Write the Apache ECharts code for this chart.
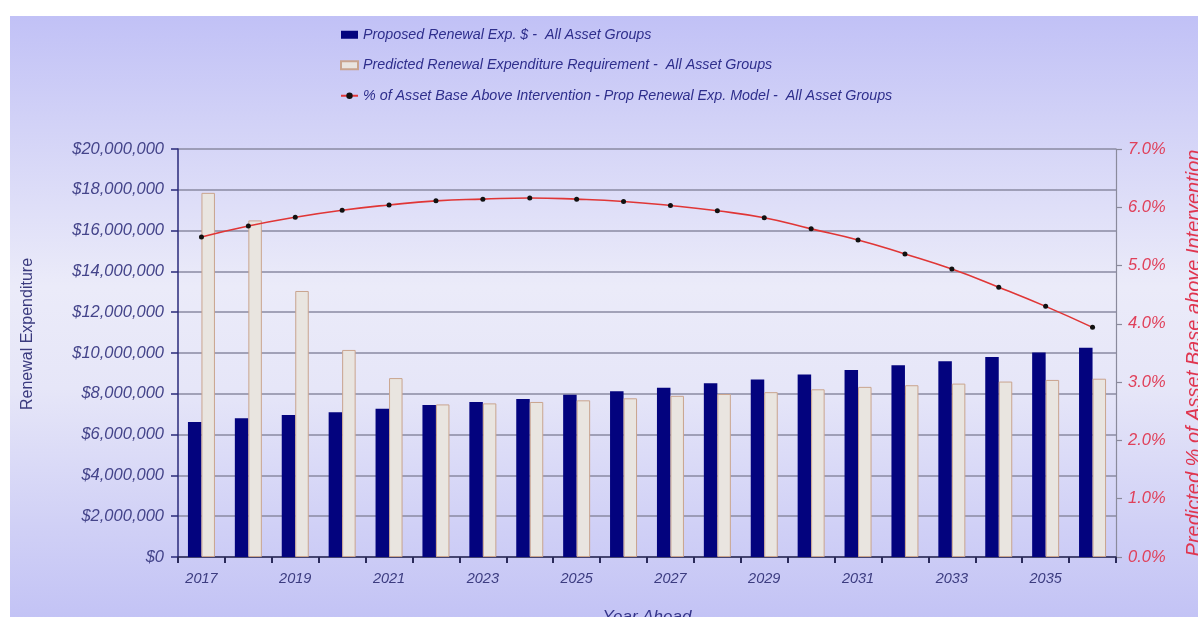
<!DOCTYPE html>
<html>
<head>
<meta charset="utf-8">
<script src="https://cdn.jsdelivr.net/npm/echarts@6/dist/echarts.min.js"></script>
<style>
  html, body { margin: 0; padding: 0; background: #ffffff; }
  #wrap { position: relative; width: 1198px; height: 617px; overflow: hidden; background: #ffffff; }
  #bg { position: absolute; left: 10px; top: 16px; right: 0; bottom: 0;
        background: linear-gradient(to bottom, #c1c1f6 0%, #d2d2f7 18%, #ebebf9 45%, #e6e6f8 62%, #d0d0f6 85%, #c3c3f5 100%); }
  #chart { position: absolute; left: 0; top: 0; width: 1198px; height: 617px; }
</style>
</head>
<body>
<div id="wrap"><div id="bg"></div><div id="chart"></div></div>
<script>
// Years of the renewal plan
const years = ['2017','2018','2019','2020','2021','2022','2023','2024','2025','2026',
               '2027','2028','2029','2030','2031','2032','2033','2034','2035','2036'];

// Proposed renewal expenditure ($)
const proposedRenewal = [6620000, 6800000, 6960000, 7100000, 7270000, 7450000, 7600000, 7750000, 7950000, 8120000,
                         8300000, 8520000, 8700000, 8950000, 9170000, 9400000, 9600000, 9800000, 10030000, 10260000];

// Predicted renewal expenditure requirement ($)
const predictedRequirement = [17850000, 16500000, 13040000, 10150000, 8770000, 7480000, 7530000, 7600000, 7680000, 7780000,
                              7900000, 7990000, 8080000, 8220000, 8340000, 8420000, 8500000, 8600000, 8680000, 8740000];

// % of asset base above intervention level
const pctAboveIntervention = [5.49, 5.68, 5.83, 5.95, 6.04, 6.11, 6.14, 6.16, 6.14, 6.10,
                              6.03, 5.94, 5.82, 5.63, 5.44, 5.20, 4.94, 4.63, 4.30, 3.94];

const legendNames = [
  'Proposed Renewal Exp. $ -  All Asset Groups',
  'Predicted Renewal Expenditure Requirement -  All Asset Groups',
  '% of Asset Base Above Intervention - Prop Renewal Exp. Model -  All Asset Groups'
];

const chart = echarts.init(document.getElementById('chart'), null, { renderer: 'canvas' });

const fontFamily = '"Liberation Sans", Arial, sans-serif';

function money(v) {
  return '$' + Math.round(v).toString().replace(/\B(?=(\d{3})+(?!\d))/g, ',');
}

chart.setOption({
  backgroundColor: 'transparent',
  animation: false,
  textStyle: { fontFamily: fontFamily },
  legend: {
    orient: 'vertical',
    left: 335,
    top: 22,
    itemWidth: 17,
    itemHeight: 8,
    itemGap: 15,
    textStyle: { fontSize: 14.3, fontStyle: 'italic', color: '#2e2e8c', lineHeight: 15.5, fontFamily: fontFamily },
    data: [
      { name: legendNames[0], icon: 'rect' },
      { name: legendNames[1], icon: 'rect' },
      { name: legendNames[2] }
    ]
  },
  graphic: [
    {
      type: 'text',
      x: 28,
      y: 334,
      rotation: Math.PI / 2,
      style: {
        text: 'Renewal Expenditure',
        fontSize: 16,
        fontFamily: fontFamily,
        fill: '#3a3a7e',
        align: 'center',
        verticalAlign: 'middle'
      }
    }
  ],
  grid: { left: 178, right: 82, top: 149, bottom: 60, containLabel: false, outerBoundsMode: 'none' },
  xAxis: {
    type: 'category',
    data: years,
    name: 'Year Ahead',
    nameLocation: 'middle',
    nameGap: 52,
    nameTextStyle: { fontSize: 17, fontStyle: 'italic', color: '#34348a', fontFamily: fontFamily },
    axisLine: { lineStyle: { color: '#2a2a5a', width: 1.5 } },
    axisTick: { show: true, interval: 0, length: 6, inside: false, lineStyle: { color: '#2a2a5a', width: 2 } },
    axisLabel: { interval: 1, fontSize: 14.5, fontStyle: 'italic', color: '#3c3c80', margin: 14, fontFamily: fontFamily },
    splitLine: { show: false }
  },
  yAxis: [
    {
      type: 'value',
      min: 0,
      max: 20000000,
      interval: 2000000,
      axisLine: { show: true, lineStyle: { color: '#2a2a7a', width: 1.5 } },
      axisTick: { show: true, length: 7, lineStyle: { color: '#2a2a7a', width: 1.5 } },
      axisLabel: { formatter: money, fontSize: 16.5, fontStyle: 'italic', color: '#44448a', margin: 14, fontFamily: fontFamily },
      splitLine: { show: true, lineStyle: { color: '#8a8aa2', width: 1.6 } }
    },
    {
      type: 'value',
      min: 0,
      max: 7,
      interval: 1,
      position: 'right',
      name: 'Predicted % of Asset Base above Intervention',
      nameLocation: 'middle',
      nameRotate: 90,
      nameGap: 78,
      nameTextStyle: { fontSize: 20, fontStyle: 'italic', color: '#e0354f', fontFamily: fontFamily, verticalAlign: 'middle' },
      axisLine: { show: true, lineStyle: { color: '#8a8a9c', width: 1.2 } },
      axisTick: { show: true, length: 6, lineStyle: { color: '#8a8a9c', width: 1.2 } },
      axisLabel: { formatter: v => v.toFixed(1) + '%', fontSize: 16.5, fontStyle: 'italic', color: '#e0405a', margin: 12, fontFamily: fontFamily },
      splitLine: { show: false }
    }
  ],
  series: [
    {
      name: legendNames[0],
      type: 'bar',
      yAxisIndex: 0,
      data: proposedRenewal,
      barWidth: 13.5,
      barGap: '0%',
      itemStyle: { color: '#03037e' }
    },
    {
      name: legendNames[1],
      type: 'bar',
      yAxisIndex: 0,
      data: predictedRequirement,
      barWidth: 13.5,
      barGap: '0%',
      itemStyle: { color: '#e9e5e0', borderColor: '#c9a48e', borderWidth: 1 }
    },
    {
      name: legendNames[2],
      type: 'line',
      yAxisIndex: 1,
      data: pctAboveIntervention,
      smooth: true,
      symbol: 'circle',
      symbolSize: 5,
      lineStyle: { color: '#e03636', width: 1.6 },
      itemStyle: { color: '#111111' },
      z: 5
    }
  ]
});
</script>
</body>
</html>
